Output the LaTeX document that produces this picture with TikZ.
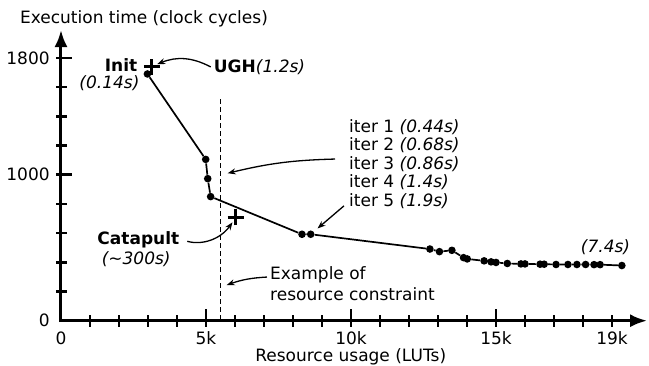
\documentclass[tikz,border=0pt]{standalone}
\usepackage{fontspec}
\setmainfont{DejaVu Sans}
\usetikzlibrary{arrows.meta,shapes.misc}

\begin{document}
\begin{tikzpicture}[x=29pt,y=14.6pt,>={Stealth[length=8pt,width=6pt]},
    every node/.style={font=\fontsize{17}{18.5}\selectfont,inner sep=3pt},
    axis/.style={line width=3pt,-{Latex[length=17pt,width=13pt]}},
    tick/.style={line width=2.5pt},
    dot/.style={circle,fill,inner sep=0pt,minimum size=7.6pt},
    plus/.style={cross out,draw,line width=2.8pt,minimum size=8.5pt,inner sep=0pt,rotate=45},
    curve/.style={line width=1.7pt},
    limit/.style={line width=1.3pt,dash pattern=on 5pt off 3pt},
    note/.style={->,line width=1.3pt}]
    \useasboundingbox (-2.1034,-3.034) rectangle (20.276,21.966);

    % Axes
    \draw[axis] (-0.052,0) -- (20.21,0);
    \draw[axis] (0,-0.1) -- (0,19.91);

    % Ticks
    \draw[tick] (1,-0.41) -- (1,0.41) (2,-0.41) -- (2,0.41) (3,-0.41) -- (3,0.41)
      (4,-0.41) -- (4,0.41) (5,-0.41) -- (5,0.82) (6,-0.41) -- (6,0.41)
      (7,-0.41) -- (7,0.41) (8,-0.41) -- (8,0.41) (9,-0.41) -- (9,0.41)
      (10,-0.41) -- (10,0.82) (11,-0.41) -- (11,0.41) (12,-0.41) -- (12,0.41)
      (13,-0.41) -- (13,0.41) (14,-0.41) -- (14,0.41) (15,-0.41) -- (15,0.82)
      (16,-0.41) -- (16,0.41) (17,-0.41) -- (17,0.41) (18,-0.41) -- (18,0.41)
      (19,-0.41) -- (19,0.41);
    \draw[tick] (-0.17,2) -- (0.21,2) (-0.17,4) -- (0.21,4) (-0.17,6) -- (0.21,6)
      (-0.17,8) -- (0.21,8) (-0.17,10) -- (0.38,10) (-0.17,12) -- (0.21,12)
      (-0.17,14) -- (0.21,14) (-0.17,16) -- (0.21,16) (-0.17,18) -- (0.38,18);

    % Tick labels
    \node (x0) at (0,-1.21) {0};
    \node (x5) at (5,-1.21) {5k};
    \node (x10) at (10,-1.21) {10k};
    \node (x15) at (15,-1.21) {15k};
    \node (x19) at (19,-1.21) {19k};
    \node[anchor=east] (y0) at (-0.28,0) {0};
    \node[anchor=east] (y10) at (-0.28,10) {1000};
    \node[anchor=east] (y18) at (-0.28,18) {1800};

    % Axis titles
    \node (ytitle) at (2.862,20.66) {Execution time (clock cycles)};
    \node (xtitle) at (9.99,-2.47) {Resource usage (LUTs)};

    % Resource constraint
    \coordinate (limtop) at (5.51,15.18);
    \coordinate (limbot) at (5.51,0);
    \draw[limit] (limtop) -- (limbot);

    % Points
    \node[dot] (p1) at (2.98,16.90) {};
    \node[dot] (p2) at (4.99,11.05) {};
    \node[dot] (p3) at (5.06,9.73) {};
    \node[dot] (p4) at (5.16,8.50) {};
    \node[dot] (p5) at (8.31,5.92) {};
    \node[dot] (p6) at (8.61,5.92) {};
    \node[dot] (p7) at (12.72,4.91) {};
    \node[dot] (p8) at (13.05,4.73) {};
    \node[dot] (p9) at (13.48,4.82) {};
    \node[dot] (p10) at (13.88,4.32) {};
    \node[dot] (p11) at (14.01,4.23) {};
    \node[dot] (p12) at (14.59,4.10) {};
    \node[dot] (p13) at (14.83,4.03) {};
    \node[dot] (p14) at (15.00,3.99) {};
    \node[dot] (p15) at (15.39,3.92) {};
    \node[dot] (p16) at (15.86,3.89) {};
    \node[dot] (p17) at (16.00,3.89) {};
    \node[dot] (p18) at (16.52,3.87) {};
    \node[dot] (p19) at (16.66,3.87) {};
    \node[dot] (p20) at (17.07,3.85) {};
    \node[dot] (p21) at (17.48,3.85) {};
    \node[dot] (p22) at (17.79,3.85) {};
    \node[dot] (p23) at (18.09,3.85) {};
    \node[dot] (p24) at (18.38,3.84) {};
    \node[dot] (p25) at (18.59,3.84) {};
    \node[dot] (p26) at (19.34,3.78) {};

    % Curve
    \draw[curve] (p1) -- (p2) -- (p3) -- (p4) -- (p5) -- (p6) -- (p7) -- (p8)
      -- (p9) -- (p10) -- (p11) -- (p12) -- (p13) -- (p14) -- (p15) -- (p16)
      -- (p17) -- (p18) -- (p19) -- (p20) -- (p21) -- (p22) -- (p23) -- (p24)
      -- (p25) -- (p26);

    % Other tools
    \node[plus] (ugh) at (3.13,17.40) {};
    \node[plus] (cat) at (6.02,7.08) {};

    % Labels
    \node (init) at (2.07,17.48) {\textbf{Init}};
    \node (inittime) at (1.672,16.30) {\textit{(0.14s)}};
    \node (ughlbl) at (6.845,17.38) {\textbf{UGH}\textit{(1.2s)}};
    \node (catlbl) at (2.667,5.53) {\textbf{Catapult}};
    \node (cattime) at (2.593,4.23) {\textit{(\textasciitilde300s)}};
    \node[align=left,anchor=west] (iter) at (9.828,10.73)
      {iter 1 \textit{(0.44s)}\\iter 2 \textit{(0.68s)}\\iter 3 \textit{(0.86s)}\\
       iter 4 \textit{(1.4s)}\\iter 5 \textit{(1.9s)}};
    \node[align=left,anchor=west,font=\fontsize{17}{21}\selectfont] (example) at (7.103,2.51)
      {Example of\\resource constraint};
    \node (lasttime) at (18.776,5.07) {\textit{(7.4s)}};

    % Arrows
    \coordinate (iterpt) at (5.748,10.10);
    \coordinate (expt) at (5.714,2.445);
    \draw[note] (ughlbl.west) to[bend right=25] (ugh);
    \draw[note] ([xshift=-11pt,yshift=5pt]iter.west) to[bend right=6] (iterpt);
    \draw[note,shorten >=5pt] ([xshift=-2pt,yshift=6pt]iter.south west) -- (p6);
    \draw[note,shorten <=5pt] (catlbl.east) to[bend right=35] (cat);
    \draw[note] ([yshift=7pt]example.west) to[bend right=8] (expt);
\end{tikzpicture}
\end{document}
